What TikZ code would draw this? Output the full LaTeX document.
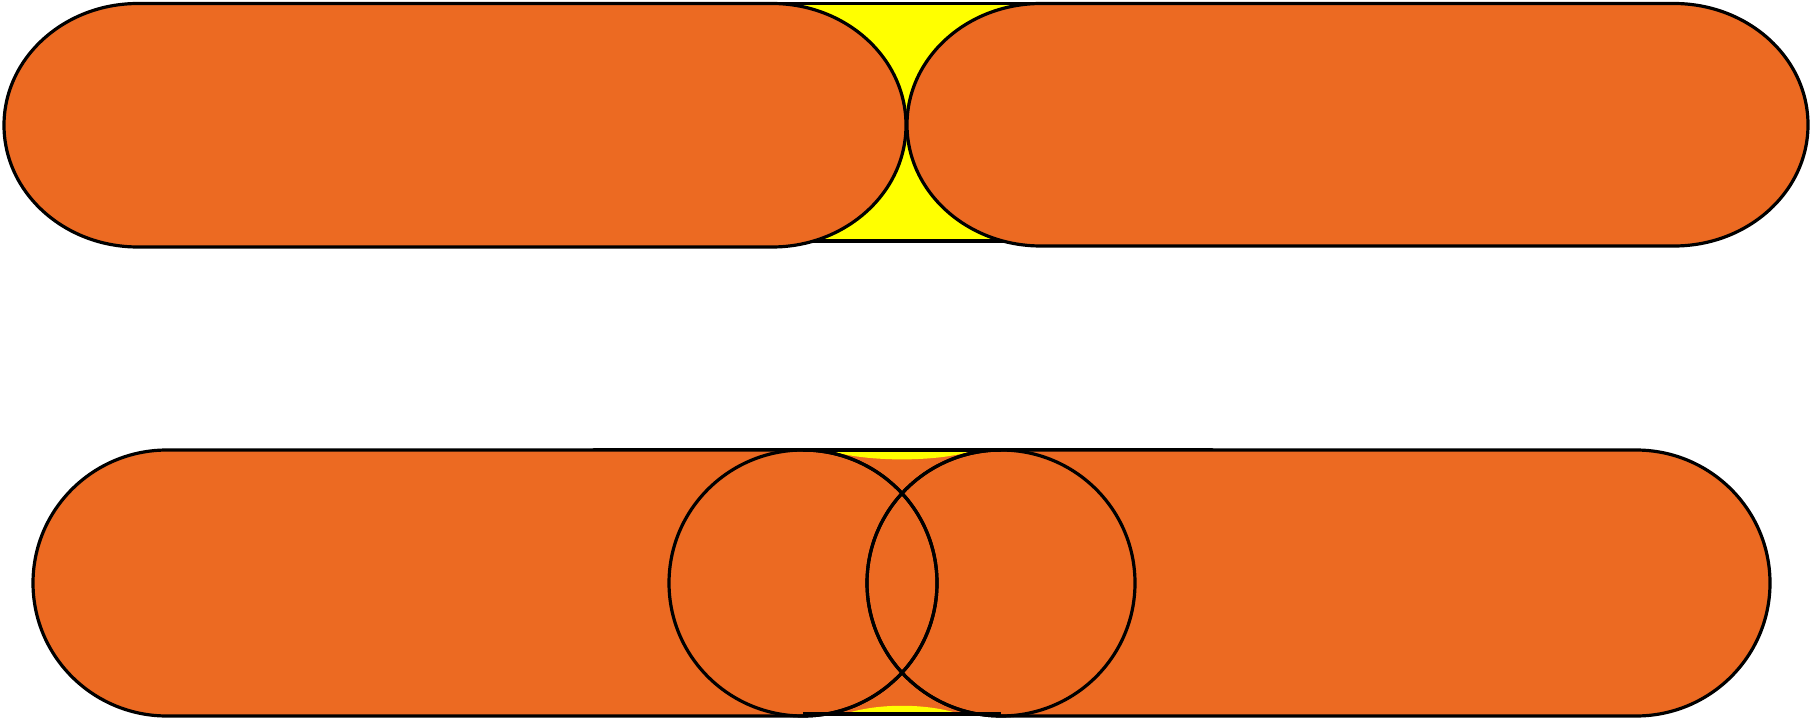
\documentclass[tikz,border=0pt]{standalone}
\definecolor{orng}{RGB}{236,106,34}
\definecolor{ylw}{RGB}{255,255,0}
\newcommand{\stadiumpath}[5]{(#1,#3) -- (#2,#3) arc[start angle=-90,end angle=90,x radius=#5,y radius={(#4-#3)/2}] -- (#1,#4) arc[start angle=90,end angle=270,x radius=#5,y radius={(#4-#3)/2}] -- cycle}
\begin{document}
\begin{tikzpicture}[x=1pt,y=-1pt,
  outl/.style={draw=black,line width=3.2pt,line join=round},
  body/.style={fill=orng},
  gap/.style={fill=ylw}]
\useasboundingbox (0,0) rectangle (1811,719);

% ---------- top row ----------
\filldraw[gap,outl] (600,3.5) rectangle (1212,241);
\filldraw[body,outl] \stadiumpath{138}{772}{3.5}{247}{134};
\filldraw[body,outl] \stadiumpath{1041}{1674}{3.5}{246}{134};

% ---------- bottom row ----------
\filldraw[gap,outl] (594,450) rectangle (1212,714);
\fill[body] \stadiumpath{167}{803}{450}{716}{134};
\fill[body] \stadiumpath{1001}{1636}{450}{716}{134};
\fill[body] (803,450) rectangle (1001,716);
\fill[gap] (833,451.5) .. controls (868,462) and (936,462) .. (970,451.5) -- cycle;
\fill[gap] (844,714) .. controls (878,703) and (926,703) .. (960,714) -- cycle;
\draw[outl] \stadiumpath{167}{803}{450}{716}{134};
\draw[outl] \stadiumpath{1001}{1636}{450}{716}{134};
\draw[outl] (803,583) ellipse[x radius=134,y radius=133];
\draw[outl] (1001,583) ellipse[x radius=134,y radius=133];
\draw[outl] (803,450) -- (1001,450);
\draw[outl] (803,714) -- (1001,714);
\end{tikzpicture}
\end{document}
